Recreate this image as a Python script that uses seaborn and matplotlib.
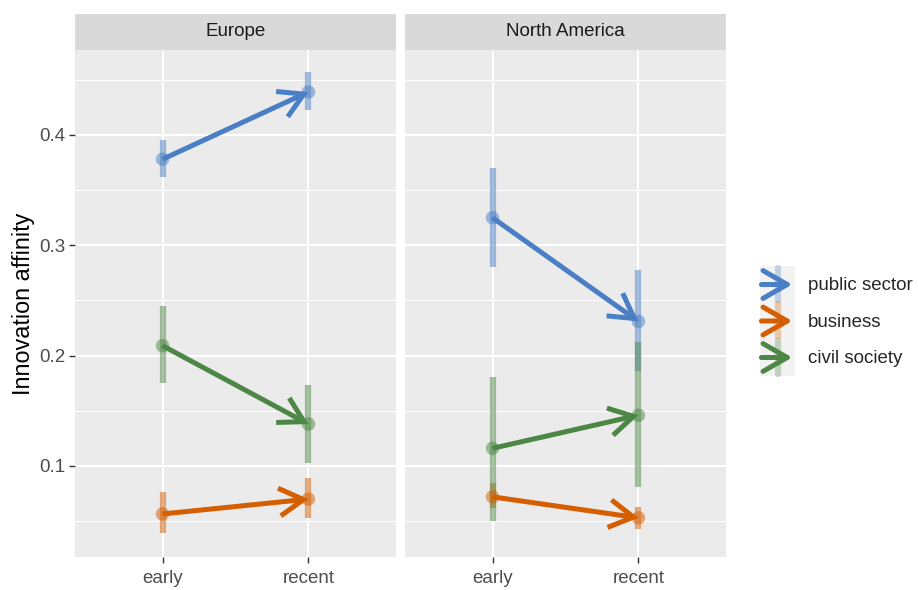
import matplotlib
matplotlib.use("Agg")
import matplotlib.pyplot as plt
import seaborn as sns
import pandas as pd
from matplotlib.patches import Rectangle, FancyArrowPatch
from matplotlib.lines import Line2D
from matplotlib.legend_handler import HandlerBase

# ---- data -------------------------------------------------------------
regions = ["Europe", "North America"]
periods = ["early", "recent"]
sectors = ["public sector", "business", "civil society"]
colors = ["#4A7FC5", "#D55E00", "#4D8745"]

region = ["Europe"] * 6 + ["North America"] * 6
sector = ["public sector", "public sector", "business", "business",
          "civil society", "civil society"] * 2
period = ["early", "recent"] * 6
affinity = [0.378, 0.439, 0.0565, 0.070, 0.209, 0.138,
            0.325, 0.231, 0.072, 0.053, 0.116, 0.146]
lower = [0.362, 0.423, 0.039, 0.053, 0.175, 0.103,
         0.280, 0.186, 0.062, 0.043, 0.050, 0.081]
upper = [0.395, 0.457, 0.076, 0.089, 0.245, 0.173,
         0.370, 0.278, 0.085, 0.063, 0.181, 0.212]

df = pd.DataFrame({"region": region, "sector": sector, "period": period,
                   "affinity": affinity, "lower": lower, "upper": upper})
df["pos"] = df["period"].map({p: i for i, p in enumerate(periods)})
palette = dict(zip(sectors, colors))

# ---- theme ------------------------------------------------------------
sns.set_theme(style="darkgrid", rc={
    "axes.facecolor": "#EBEBEB",
    "grid.color": "white",
    "axes.edgecolor": "none",
})
plt.rcParams["font.family"] = ["Liberation Sans", "DejaVu Sans"]

fs = 13.5          # tick labels, strips, legend
title_fs = 16.8    # axis title
ARROW = "->,head_length=0.87,head_width=0.5"

fig = plt.figure(figsize=(9.18, 5.90), dpi=100)
left_edges = [75 / 918, 405 / 918]
pw = 321 / 918
bottom = 1 - 557 / 590
ph = 507 / 590
axes = [fig.add_axes([l, bottom, pw, ph]) for l in left_edges]

ymin, ymax = 0.0175, 0.477
major = [0.1, 0.2, 0.3, 0.4]
minor = [0.05, 0.15, 0.25, 0.35, 0.45]

for i, (ax, reg) in enumerate(zip(axes, regions)):
    sub = df[df["region"] == reg]
    ax.set_xlim(-0.6, 1.6)
    ax.set_ylim(ymin, ymax)
    ax.grid(False)
    for m in minor:
        ax.axhline(m, color="white", lw=0.8, zorder=0.5)
    for m in major:
        ax.axhline(m, color="white", lw=1.5, zorder=0.5)
    for p in range(len(periods)):
        ax.axvline(p, color="white", lw=1.5, zorder=0.5)

    # interval bars
    for _, r in sub.iterrows():
        ax.vlines(r["pos"], r["lower"], r["upper"], color=palette[r["sector"]],
                  lw=4.5, alpha=0.5, zorder=2)

    # points
    sns.scatterplot(data=sub, x="pos", y="affinity", hue="sector",
                    palette=palette, hue_order=sectors, s=95, alpha=0.5,
                    edgecolor="none", legend=False, ax=ax, zorder=3)

    # arrows from early to recent
    for s in sectors:
        ss = sub[sub["sector"] == s].set_index("period")
        ax.annotate("", xy=(ss.loc["recent", "pos"], ss.loc["recent", "affinity"]),
                    xytext=(ss.loc["early", "pos"], ss.loc["early", "affinity"]),
                    arrowprops=dict(arrowstyle=ARROW, mutation_scale=20,
                                    lw=3.6, color=palette[s],
                                    shrinkA=0, shrinkB=0, capstyle="butt",
                                    joinstyle="miter"),
                    zorder=4)

    ax.set_xticks(range(len(periods)))
    ax.set_xticklabels(periods)
    ax.set_yticks(major)
    ax.tick_params(axis="both", length=4.3, width=1.0, color="#333333",
                   labelcolor="#4D4D4D", labelsize=fs, pad=2.5, direction="out",
                   bottom=True, left=True)
    ax.tick_params(axis="x", pad=5)
    if i == 0:
        ax.set_yticklabels(["0.1", "0.2", "0.3", "0.4"])
        ax.set_ylabel("Innovation affinity", fontsize=title_fs, color="black",
                      labelpad=3)
    else:
        ax.set_yticklabels([])
        ax.tick_params(axis="y", length=0)
        ax.set_ylabel("")
    ax.set_xlabel("")

    # facet strip
    sh = 36 / 507
    ax.add_patch(Rectangle((0, 1), 1, sh, transform=ax.transAxes,
                           facecolor="#D9D9D9", edgecolor="none", clip_on=False))
    ax.text(0.5, 1 + sh / 2, reg, transform=ax.transAxes, ha="center",
            va="center", fontsize=fs, color="#1A1A1A")


# ---- legend with arrow keys --------------------------------------------
class ArrowKey(HandlerBase):
    def create_artists(self, legend, orig_handle, xdescent, ydescent,
                       width, height, fontsize, trans):
        c = orig_handle.get_color()
        x0, y0 = -xdescent, -ydescent
        bg = Rectangle((x0, y0), width, height, facecolor="#F2F2F2",
                       edgecolor="none", transform=trans)
        ym = y0 + height / 2
        err = Line2D([x0 + width / 2] * 2, [y0 + 1, y0 + height - 1],
                     color=c, lw=4.5, alpha=0.3, transform=trans)
        arr = FancyArrowPatch((x0 + 1, ym), (x0 + width - 2, ym),
                              arrowstyle=ARROW, mutation_scale=20, lw=3.6,
                              color=c, shrinkA=0, shrinkB=0, transform=trans)
        return [bg, err, arr]


handles = [Line2D([], [], color=c) for c in colors]
key_w = 35 * 72 / 100                  # key width in points
key_pt = 36.5 * 72 / 100               # key height in points
key_h = (key_pt / fs - 0.245) / 0.65   # legend box height = fs*(0.65*h + 0.245)
fig.legend(handles, sectors, loc="center left",
           bbox_to_anchor=(760 / 918, 1 - 321 / 590),
           handler_map={Line2D: ArrowKey()}, frameon=False, fontsize=fs,
           handlelength=key_w / fs, handleheight=key_h, labelspacing=0,
           handletextpad=9.4 / fs, borderpad=0, borderaxespad=0)

fig.savefig("out.png", dpi=100, facecolor="white")
